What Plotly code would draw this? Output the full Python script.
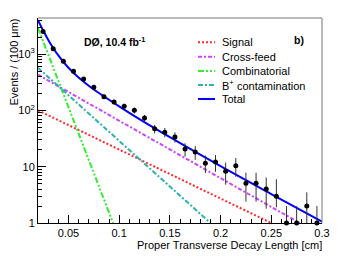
import plotly.graph_objects as go

# ---- data ----
bin_x = [0.025, 0.035, 0.045, 0.055, 0.065, 0.075, 0.085, 0.095, 0.105, 0.115,
         0.125, 0.135, 0.145, 0.155, 0.165, 0.175, 0.185, 0.195, 0.205, 0.215,
         0.225, 0.235, 0.245, 0.255, 0.265, 0.275, 0.285, 0.295]
events = [2520, 1247, 742, 493, 361, 256, 175, 141, 118, 100,
          73, 47, 41, 33.7, 20.6, 18.2, 11.5, 12.1, 8.3, 10.4,
          5.1, 5.1, 4.0, 3.0, 1.0, 1.0, 2.0, 1.0]
err_hi = [60, 42, 33, 27, 23, 19, 16, 14, 13, 12,
          10, 8, 7.7, 7, 5.5, 5, 4.2, 4, 3.5, 3.8,
          2.7, 2.7, 2.4, 3.0, 1.0, 1.0, 1.5, 1.0]
err_lo = [60, 42, 33, 27, 23, 19, 16, 14, 13, 12,
          10, 8, 7.7, 7, 5.5, 5, 3.8, 4, 3.5, 3.8,
          2.7, 2.7, 2.2, 1.1, 0.0, 0.0, 1.0, 0.0]

signal_x = [0.02, 0.25]
signal_y = [100, 1]
crossfeed_x = [0.02, 0.278]
crossfeed_y = [430, 1]
comb_x = [0.02, 0.094]
comb_y = [2900, 1]
bplus_x = [0.02, 0.19]
bplus_y = [570, 1]
total_x = [0.02, 0.025, 0.03, 0.035, 0.04, 0.05, 0.06, 0.07, 0.08, 0.1,
           0.12, 0.15, 0.2, 0.25, 0.3]
total_y = [4000, 2640, 1800, 1280, 945, 570, 383, 274, 203, 118,
           70, 33.4, 10.2, 3.27, 1.06]

x_tickvals = [0.05, 0.1, 0.15, 0.2, 0.25, 0.3]
x_ticktext = ["0.05", "0.1", "0.15", "0.2", "0.25", "0.3"]
y_tickvals = [1, 10, 100, 1000]
y_ticktext = ["1", "10", "10<sup>2</sup>", "10<sup>3</sup>"]
y_minor = [v * d for d in (1, 10, 100, 1000) for v in range(2, 10)]

legend_labels = ["Signal", "Cross-feed", "Combinatorial", "B<sup>+</sup> contamination", "Total"]
colors = ["#ff2a2a", "#cc44ff", "#33ee33", "#2fb0b0", "#0000ff"]
dashes = ["2px,2px", "4px,2px,2px,2px", "6px,2px,2px,2px,2px,2px", "5px,2px,2px,2px", "solid"]

FONT = "Liberation Sans, Arial, sans-serif"

fig = go.Figure()
series = [(signal_x, signal_y), (crossfeed_x, crossfeed_y), (comb_x, comb_y), (bplus_x, bplus_y)]
for (sx, sy), c, d in zip(series, colors[:4], dashes[:4]):
    fig.add_trace(go.Scatter(x=sx, y=sy, mode="lines", line=dict(color=c, width=2, dash=d),
                             showlegend=False, hoverinfo="skip"))
fig.add_trace(go.Scatter(x=total_x, y=total_y, mode="lines", line=dict(color=colors[4], width=2, shape="spline"),
                         showlegend=False, hoverinfo="skip"))
fig.add_trace(go.Scatter(x=bin_x, y=events, mode="markers",
                         marker=dict(color="black", size=5),
                         error_y=dict(type="data", array=err_hi, arrayminus=err_lo, color="#333", thickness=1, width=0),
                         cliponaxis=False, showlegend=False))

L, R, T, B = 38, 33, 18, 33
W, H = 355, 256
pw, ph = W - L - R, H - T - B

def px_x(p):
    return (p - L) / pw

def px_y(p):
    return (H - B - p) / ph

# manual legend
rows = [42.3, 56.7, 71, 85, 99]
for lab, c, d, ry in zip(legend_labels, colors, dashes, rows):
    fig.add_shape(type="line", xref="paper", yref="paper", x0=px_x(198), x1=px_x(215),
                  y0=px_y(ry), y1=px_y(ry), line=dict(color=c, width=2, dash=d))
    fig.add_annotation(xref="paper", yref="paper", x=px_x(220), y=px_y(ry), text=lab,
                       showarrow=False, xanchor="left", yanchor="middle",
                       font=dict(family=FONT, size=11, color="black"))

fig.add_annotation(xref="paper", yref="paper", x=px_x(82), y=px_y(41), text="<b>DØ, 10.4 fb<sup>-1</sup></b>",
                   showarrow=False, xanchor="left", yanchor="middle", font=dict(family=FONT, size=10.5, color="black"))
fig.add_annotation(xref="paper", yref="paper", x=px_x(299), y=px_y(40), text="<b>b)</b>",
                   showarrow=False, xanchor="center", yanchor="middle", font=dict(family=FONT, size=10.5, color="black"))
fig.add_annotation(xref="paper", yref="paper", x=px_x(324), y=px_y(245), text="Proper Transverse Decay Length [cm]",
                   showarrow=False, xanchor="right", yanchor="middle", font=dict(family=FONT, size=11, color="black"))
fig.add_annotation(xref="paper", yref="paper", x=px_x(13), y=px_y(17), text="Events / (100 μm)",
                   textangle=-90, showarrow=False, xanchor="center", yanchor="top",
                   font=dict(family=FONT, size=11, color="black"))

# frame top and right
fig.add_shape(type="line", xref="paper", yref="paper", x0=0, x1=1, y0=1, y1=1, line=dict(color="#777", width=1))
fig.add_shape(type="line", xref="paper", yref="paper", x0=1, x1=1, y0=0, y1=1, line=dict(color="#777", width=1))

fig.update_layout(
    width=W, height=H, margin=dict(l=L, r=R, t=T, b=B),
    paper_bgcolor="white", plot_bgcolor="white",
    font=dict(family=FONT, size=11, color="black"),
    xaxis=dict(range=[0.02, 0.3], tickmode="array", tickvals=x_tickvals, ticktext=x_ticktext,
               ticks="inside", ticklen=8, tickcolor="black", showgrid=False, zeroline=False,
               showline=True, linecolor="black", linewidth=1,
               minor=dict(dtick=0.01, tick0=0.0, ticks="inside", ticklen=4, tickcolor="black", showgrid=False),
               tickfont=dict(size=11)),
    yaxis=dict(type="log", range=[0, 3.64], tickmode="array", tickvals=y_tickvals, ticktext=y_ticktext,
               ticks="inside", ticklen=8, tickcolor="black", showgrid=False, zeroline=False,
               showline=True, linecolor="black", linewidth=1,
               minor=dict(tickmode="array", tickvals=y_minor, ticks="inside", ticklen=4, tickcolor="black", showgrid=False),
               tickfont=dict(size=11)),
)

fig.write_html("out.html", config={"displayModeBar": False},
               post_script="document.body.style.margin='0';")
